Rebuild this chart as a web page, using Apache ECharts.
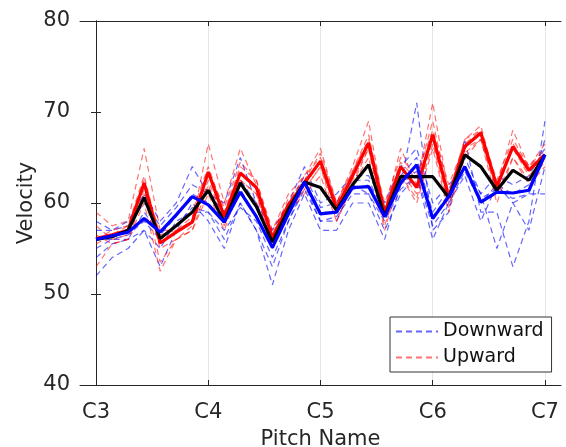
<!DOCTYPE html>
<html>
<head>
<meta charset="utf-8">
<script src="https://cdn.jsdelivr.net/npm/echarts@6/dist/echarts.min.js"></script>
<style>
  html, body { margin: 0; padding: 0; background: #fff; }
  #chart { width: 566px; height: 447px; }
</style>
</head>
<body>
<div id="chart"></div>
<script>
// pitch index: 0 = C3, 7 = C4, ... 28 = C7 (white keys)
const tickValues = [0, 7, 14, 21, 28];
const tickLabels = ['C3', 'C4', 'C5', 'C6', 'C7'];

// mean curves
const upMean = [56.1, 56.5, 57.0, 62.2, 55.6, 56.8, 57.9, 63.4, 58.5, 63.3, 61.7, 56.2, 59.8, 62.2, 64.6, 59.4, 63.0, 66.6, 58.9, 64.0, 61.7, 67.5, 60.6, 66.2, 67.7, 61.8, 66.2, 63.6, 65.3];
const downMean = [56.0, 56.4, 56.8, 58.3, 56.8, 58.7, 60.7, 59.8, 57.9, 61.2, 58.5, 55.1, 58.8, 62.3, 58.8, 59.0, 61.7, 61.8, 58.5, 62.2, 64.2, 58.3, 60.7, 64.0, 60.1, 61.2, 61.1, 61.4, 65.3];
const allMean = [56.0, 56.3, 57.0, 60.6, 56.1, 57.5, 59.0, 61.4, 57.9, 62.2, 59.6, 55.7, 59.3, 62.3, 61.7, 59.2, 62.0, 64.2, 58.5, 62.9, 62.9, 62.9, 60.6, 65.3, 64.0, 61.4, 63.6, 62.5, 65.3];

// individual upward runs
const up1 = [59, 57.5, 58, 66, 57, 57, 58, 66.5, 60, 66, 62, 57, 61, 63, 66, 60, 64, 69, 59, 66, 62, 71, 61, 67, 68.5, 62, 68, 64, 66];
const up2 = [53, 55.5, 56, 60, 52.5, 56, 57, 61, 57, 62, 60, 55, 59, 61, 63, 58, 62, 65, 57, 63, 60, 66, 59, 65, 67, 60, 65, 62, 64];
const up3 = [56, 57, 57.5, 63, 56, 57.5, 59, 64, 59, 64, 62.5, 57, 60, 63, 65, 60, 63.5, 67, 60, 65, 63, 68, 62, 66.5, 68, 62.5, 67, 64, 65.5];
const up4 = [57.5, 56, 56.5, 61.5, 55, 56, 57.5, 62.5, 58, 62.5, 61, 55.5, 59.5, 61.5, 64, 59, 62.5, 66, 58.5, 63.5, 61, 67, 60, 66, 67, 61.5, 66, 63, 65];
const up5 = [55.5, 56.5, 57.5, 62.5, 56.5, 57, 58.5, 63.5, 59.5, 64.5, 62.5, 56.5, 60.5, 62.5, 65.5, 60, 63.5, 67.5, 59.5, 64.5, 62.5, 69, 61, 67, 68, 62, 66.5, 64, 66.5];
const up6 = [56.5, 55.5, 56, 61, 53.5, 56, 57, 62, 57.5, 62.5, 61, 55, 59, 61.5, 64, 58, 62, 66, 57.5, 63, 60.5, 66.5, 59.5, 65.5, 67, 61, 65, 62.5, 64.5];

// individual downward runs
const down1 = [52, 54, 55, 57, 53, 57, 60, 58, 55, 60, 57, 51, 57, 61, 57, 57, 60, 60, 56, 62, 71, 57, 59, 67, 59, 59, 53, 58, 69];
const down2 = [58, 57, 58, 61, 58, 60, 64, 61, 60, 65, 60, 57, 60, 64, 60, 61, 63, 63, 60, 64, 66, 60, 62, 64, 61, 55, 60, 61, 61];
const down3 = [55, 56, 56, 57, 55, 58, 59, 59, 56, 60, 57, 53, 58, 62, 58, 58, 62, 61, 57, 61, 63, 56, 60, 63, 58, 62, 60, 57, 64];
const down4 = [57, 57, 57.5, 60, 57.5, 59.5, 62, 61, 59, 62.5, 60, 56, 59.5, 63, 59.5, 60, 62.5, 62.5, 59, 63, 65, 59, 61.5, 65, 61, 63, 62, 63, 66];
const down5 = [56, 56, 56.5, 58, 56, 57.5, 59.5, 59, 57, 59.5, 58, 54, 58, 61.5, 58, 58.5, 61, 61, 58, 61.5, 63, 57.5, 60, 63.5, 60, 62, 61, 62, 65];
const down6 = [54, 55.5, 56, 59, 56.5, 58.5, 61, 60, 58, 61.5, 58.5, 55, 59, 62.5, 59, 59, 61.5, 62, 59.5, 62, 63.5, 58.5, 61, 64, 60.5, 61.5, 60.5, 61, 67];

const toXY = arr => arr.map((v, i) => [i, v]);
const font = 'DejaVu Sans, sans-serif';
const ink = '#262626';

const dashed = (name, arr, color) => ({
  name: name,
  type: 'line',
  data: toXY(arr),
  symbol: 'none',
  silent: true,
  itemStyle: { color: color },
  lineStyle: { color: color, width: 1.2, type: [6, 4] },
  z: 2
});
const thick = (name, arr, color) => ({
  name: name,
  type: 'line',
  data: toXY(arr),
  symbol: 'none',
  silent: true,
  itemStyle: { color: color },
  lineStyle: { color: color, width: 3.2 },
  z: 3
});

const downColor = 'rgba(0,0,255,0.6)';
const upColor = 'rgba(255,0,0,0.55)';

const chart = echarts.init(document.getElementById('chart'));

const option = {
  animation: false,
  backgroundColor: '#fff',
  textStyle: { fontFamily: font },
  grid: { left: 80, right: 5, top: 21, bottom: 62, outerBoundsMode: 'none', containLabel: false },
  legend: {
    orient: 'vertical',
    left: 390,
    top: 317,
    padding: [5, 8, 5, 5],
    itemWidth: 42,
    itemHeight: 14,
    itemGap: 7,
    backgroundColor: '#fff',
    borderColor: '#333',
    borderWidth: 1,
    itemStyle: { opacity: 0 },
    textStyle: { fontFamily: font, fontSize: 19, color: '#111' },
    data: ['Downward', 'Upward']
  },
  xAxis: [{
    type: 'value',
    min: -1,
    max: 29,
    name: 'Pitch Name',
    nameLocation: 'middle',
    nameGap: 44,
    nameMoveOverlap: false,
    nameTextStyle: { fontSize: 21, color: ink, fontFamily: font },
    axisLine: { lineStyle: { color: ink } },
    axisTick: { inside: true, length: 5, customValues: tickValues, lineStyle: { color: ink } },
    axisLabel: {
      customValues: tickValues,
      fontSize: 21, color: ink, margin: 17,
      formatter: v => tickLabels[tickValues.indexOf(v)]
    },
    splitLine: { show: true, lineStyle: { color: '#e6e6e6' } }
  }, {
    type: 'value',
    position: 'top',
    min: -1,
    max: 29,
    axisLine: { show: true, lineStyle: { color: ink } },
    axisTick: { inside: true, length: 5, customValues: tickValues, lineStyle: { color: ink } },
    axisLabel: { show: false },
    splitLine: { show: false }
  }],
  yAxis: [{
    type: 'value',
    min: 40,
    max: 80,
    interval: 10,
    name: 'Velocity',
    nameLocation: 'middle',
    nameGap: 43,
    nameMoveOverlap: false,
    nameTextStyle: { fontSize: 21, color: ink, fontFamily: font },
    axisLine: { show: true, lineStyle: { color: ink } },
    axisTick: { show: true, inside: true, length: 5, lineStyle: { color: ink } },
    axisLabel: { fontSize: 21, color: ink, margin: 10 },
    splitLine: { show: false }
  }, {
    type: 'value',
    position: 'right',
    min: 40,
    max: 80,
    interval: 10,
    axisLine: { show: true, lineStyle: { color: ink } },
    axisTick: { show: true, inside: true, length: 5, lineStyle: { color: ink } },
    axisLabel: { show: false },
    splitLine: { show: false }
  }],
  series: [
    dashed('Downward', down1, downColor),
    dashed('Downward', down2, downColor),
    dashed('Downward', down3, downColor),
    dashed('Downward', down4, downColor),
    dashed('Downward', down5, downColor),
    dashed('Downward', down6, downColor),
    dashed('Upward', up1, upColor),
    dashed('Upward', up2, upColor),
    dashed('Upward', up3, upColor),
    dashed('Upward', up4, upColor),
    dashed('Upward', up5, upColor),
    dashed('Upward', up6, upColor),
    thick('Upward mean', upMean, '#ff0000'),
    thick('Mean', allMean, '#000000'),
    thick('Downward mean', downMean, '#0000ff')
  ]
};

chart.setOption(option);
</script>
</body>
</html>
